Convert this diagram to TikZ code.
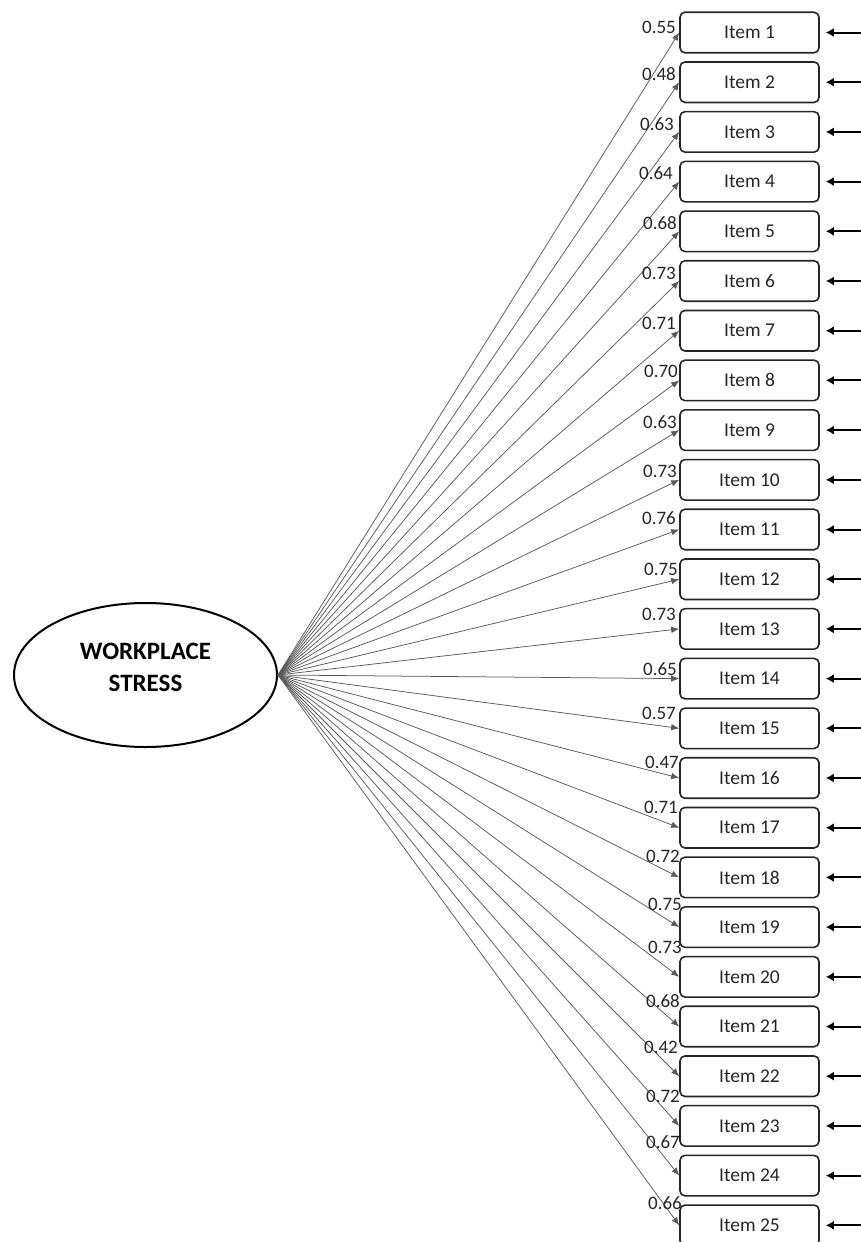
\documentclass[tikz,border=0pt]{standalone}
\usepackage{fontspec}
\setmainfont{Carlito}
\usetikzlibrary{arrows.meta,shapes.geometric}
\tikzset{
  itembox/.style={draw=black!85, line width=1.6pt, rounded corners=5pt, minimum width=139pt, minimum height=40.5pt, inner sep=0pt, text=black!85, font=\fontsize{19.5}{22}\selectfont},
  loadline/.style={draw=black!65, line width=0.75pt, -{Latex[length=8pt,width=6.5pt]}},
  errline/.style={draw=black, line width=2pt, -{Latex[length=8pt,width=9pt]}, shorten >=6pt},
  lab/.style={inner sep=0pt, anchor=east, text=black!85, font=\fontsize{19}{22}\selectfont},
  latent/.style={draw=black, line width=2pt, ellipse, minimum width=263pt, minimum height=144pt, inner sep=0pt},
  latenttext/.style={align=center, inner sep=0pt, font=\fontsize{25}{32}\selectfont\bfseries}
}
\begin{document}
\begin{tikzpicture}[x=1pt,y=-1pt]
\useasboundingbox (0,0) rectangle (860,1242);
\node[latent] (ws) at (145.5,675) {};
\node[latenttext] (wst) at (145.5,667.5) {WORKPLACE\\STRESS};
\foreach \i/\v/\ly/\lx in {
  1/0.55/27.5/676, 2/0.48/74/676, 3/0.63/124/674, 4/0.64/173.5/673, 5/0.68/223.5/677,
  6/0.73/273.5/676, 7/0.71/323.5/676, 8/0.70/371.5/678, 9/0.63/422/677, 10/0.73/471/677,
  11/0.76/518/676, 12/0.75/569/678, 13/0.73/614/676, 14/0.65/669/677, 15/0.57/713/676,
  16/0.47/762.5/679, 17/0.71/807.5/678, 18/0.72/856.5/680, 19/0.75/904/682, 20/0.73/947/682,
  21/0.68/1001.5/680, 22/0.42/1047.5/678, 23/0.72/1096/680, 24/0.67/1142.5/680, 25/0.66/1203/682}
{
  \node[itembox] (b\i) at (749.5,{32.5+(\i-1)*49.7}) {Item \i};
  \coordinate (e\i) at (862,{32.5+(\i-1)*49.7});
  \draw[loadline] (ws.east) -- (b\i.west);
  \draw[errline] (e\i) -- (b\i.east);
  \node[lab] (l\i) at (\lx,\ly) {\v};
}
\end{tikzpicture}
\end{document}
